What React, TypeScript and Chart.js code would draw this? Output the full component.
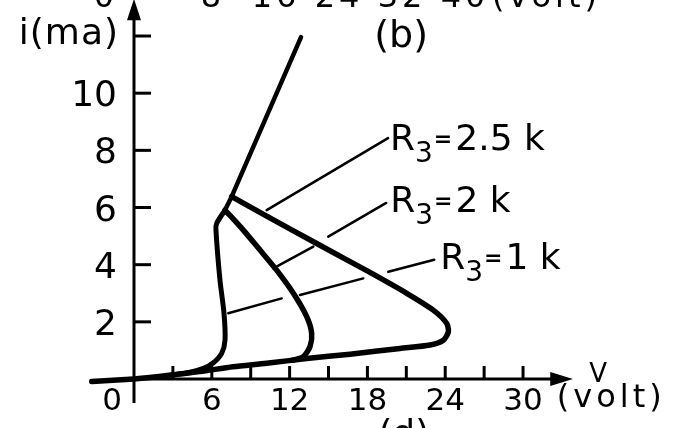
import React, { useEffect, useRef } from "react";
import { Chart, registerables } from "chart.js";

Chart.register(...registerables);

const FONT = '"DejaVu Sans", sans-serif';

// Straight load line (volt, mA) down to the branch points
const loadV = [12.88, 7.53, 7.02];
const loadI = [11.96, 6.38, 5.91];

// R3 = 2.5 k branch, running back along the lower line through the origin
const r25V = [7.53, 10.23, 14.09, 17.95, 21.03, 23.08, 24.11, 24.24, 23.85, 22.83, 20.51, 16.66, 13.32, 10.23, 7.63, 5.09, 3.0, 1.2, 0, -3.26];
const r25I = [6.38, 5.7, 4.74, 3.79, 3.0, 2.41, 1.95, 1.65, 1.36, 1.19, 1.07, 0.87, 0.72, 0.55, 0.43, 0.26, 0.15, 0.05, 0, -0.09];

// R3 = 2 k branch
const r2V = [7.02, 8.43, 9.72, 11.0, 12.29, 13.32, 13.7, 13.57, 13.06, 12.26];
const r2I = [5.91, 5.21, 4.51, 3.81, 3.0, 2.18, 1.6, 1.13, 0.78, 0.66];

// R3 = 1 k branch
const r1V = [7.02, 6.38, 6.32, 6.63, 6.94, 7.02, 6.76, 6.12, 5.35, 4.2, 3.0];
const r1I = [5.91, 5.45, 5.21, 3.46, 2.3, 1.36, 0.9, 0.57, 0.37, 0.22, 0.15];

// Leader lines to the labels (null = break where another curve is crossed)
const lead25V = [10.23, 19.59];
const lead25I = [5.91, 8.43];
const lead2V = [10.74, 13.83, null, 14.98, 19.45];
const lead2I = [3.87, 4.63, null, 4.98, 6.16];
const lead1V = [7.27, 11.39, null, 12.8, 17.68, null, 19.61, 23.15];
const lead1I = [2.3, 2.82, null, 2.94, 3.52, null, 3.75, 4.17];

const resistorValues = ["2.5 k", "2 k", "1 k"];

const yTicks = [2, 4, 6, 8, 10, 12];
const yTickLabels = ["2", "4", "6", "8", "10"];
const xTicks = [3, 6, 9, 12, 15, 18, 21, 24, 27, 30];
const xTickLabels = ["0", "6", "12", "18", "24", "30"];
// Voltage labels of the panel above, cut by the top edge
const upperAxisLabels = ["0", "8", "16", "24", "32", "40"];

type P = { x: number | null; y: number | null };
const toPts = (V: (number | null)[], I: (number | null)[]): P[] =>
  V.map((v, k) => ({ x: v, y: I[k] }));

const line = (V: (number | null)[], I: (number | null)[], width: number, tension: number) => ({
  data: toPts(V, I),
  showLine: true,
  borderColor: "#000",
  backgroundColor: "#000",
  borderWidth: width,
  pointRadius: 0,
  tension,
  fill: false,
  spanGaps: false,
  borderCapStyle: "round",
  borderJoinStyle: "round",
});

const axesPlugin = {
  id: "handAxes",
  beforeDatasetsDraw(chart: any) {
    const { ctx } = chart;
    const xs = chart.scales.x;
    const ys = chart.scales.y;
    const px = (v: number) => xs.getPixelForValue(v);
    const py = (v: number) => ys.getPixelForValue(v);
    const x0 = px(0);
    const y0 = py(0);
    ctx.save();
    ctx.strokeStyle = "#000";
    ctx.fillStyle = "#000";
    ctx.lineWidth = 3;
    ctx.lineCap = "butt";
    // vertical axis with arrow
    ctx.beginPath();
    ctx.moveTo(x0, py(-0.84));
    ctx.lineTo(x0, py(12.6));
    ctx.stroke();
    ctx.beginPath();
    ctx.moveTo(x0, py(13.3));
    ctx.lineTo(x0 - 7, py(12.55));
    ctx.lineTo(x0 + 7, py(12.55));
    ctx.closePath();
    ctx.fill();
    // horizontal axis with arrow
    ctx.beginPath();
    ctx.moveTo(x0, y0);
    ctx.lineTo(px(32.3), y0);
    ctx.stroke();
    ctx.beginPath();
    ctx.moveTo(px(33.85), y0);
    ctx.lineTo(px(32.1), y0 - 7);
    ctx.lineTo(px(32.1), y0 + 7);
    ctx.closePath();
    ctx.fill();
    // inward ticks
    yTicks.forEach((t) => {
      ctx.beginPath();
      ctx.moveTo(x0, py(t));
      ctx.lineTo(x0 + 17, py(t));
      ctx.stroke();
    });
    xTicks.forEach((t) => {
      ctx.beginPath();
      ctx.moveTo(px(t), y0);
      ctx.lineTo(px(t), y0 - 13);
      ctx.stroke();
    });
    ctx.restore();
  },
  afterDraw(chart: any) {
    const { ctx } = chart;
    const xs = chart.scales.x;
    const ys = chart.scales.y;
    const px = (v: number) => xs.getPixelForValue(v);
    const py = (v: number) => ys.getPixelForValue(v);
    const x0 = px(0);
    const y0 = py(0);
    ctx.save();
    ctx.fillStyle = "#000";
    ctx.textBaseline = "alphabetic";

    // vertical tick labels
    ctx.font = `36px ${FONT}`;
    ctx.textAlign = "right";
    yTickLabels.forEach((s) => ctx.fillText(s, x0 - 17, py(Number(s)) + 13));
    ctx.letterSpacing = "1px";
    ctx.fillText("i(ma)", x0 - 15, py(12) + 8);
    ctx.letterSpacing = "0px";

    // horizontal tick labels
    ctx.font = `31px ${FONT}`;
    xTickLabels.forEach((s) => {
      const v = Number(s);
      if (v === 0) {
        ctx.textAlign = "right";
        ctx.fillText(s, x0 - 12, y0 + 31);
      } else {
        ctx.textAlign = "center";
        ctx.fillText(s, px(v), y0 + 31);
      }
    });

    // axis unit
    ctx.textAlign = "center";
    ctx.font = `26px ${FONT}`;
    ctx.fillText("V", px(35.8), y0 + 3);
    ctx.textAlign = "left";
    ctx.font = `32px ${FONT}`;
    ctx.letterSpacing = "4px";
    ctx.fillText("(volt)", px(32.6), y0 + 28);

    // labels of the neighbouring panels, clipped by the edges
    upperAxisLabels.forEach((s) => {
      const v = Number(s);
      ctx.textAlign = "center";
      ctx.fillText(s, v === 0 ? 106 : 150 + v * 7.875, 7);
    });
    ctx.textAlign = "left";
    ctx.fillText("(volt)", 492, 7);
    ctx.letterSpacing = "0px";

    // panel captions
    ctx.textAlign = "center";
    ctx.font = `38px ${FONT}`;
    ctx.fillText("(b)", px(20.6), 47);
    ctx.font = `36px ${FONT}`;
    ctx.fillText("(d)", px(20.8), y0 + 66);

    // resistor labels at the ends of the leader lines
    const ends = [
      [lead25V[lead25V.length - 1], lead25I[lead25I.length - 1], 2, 12],
      [lead2V[lead2V.length - 1], lead2I[lead2I.length - 1], 4, 9],
      [lead1V[lead1V.length - 1], lead1I[lead1I.length - 1], 6, 9],
    ] as number[][];
    ends.forEach(([v, i, dx, dy], k) => {
      let x = px(v) + dx;
      const base = py(i) + dy;
      ctx.textAlign = "left";
      ctx.font = `36px ${FONT}`;
      ctx.fillText("R", x, base);
      x += ctx.measureText("R").width;
      ctx.font = `28px ${FONT}`;
      ctx.fillText("3", x, base + 12);
      x += ctx.measureText("3").width + 1;
      ctx.font = `bold 22px ${FONT}`;
      ctx.fillText("=", x, base - 4);
      x += ctx.measureText("=").width + 3;
      ctx.font = `36px ${FONT}`;
      ctx.fillText(resistorValues[k], x, base);
    });
    ctx.restore();
  },
};

export default function App() {
  const ref = useRef<HTMLCanvasElement | null>(null);
  useEffect(() => {
    if (!ref.current) return;
    const chart = new Chart(ref.current, {
      type: "scatter",
      data: {
        datasets: [
          line(lead25V, lead25I, 2.5, 0),
          line(lead2V, lead2I, 2.5, 0),
          line(lead1V, lead1I, 2.5, 0),
          line(loadV, loadI, 4.5, 0),
          line(r25V, r25I, 5.5, 0.25),
          line(r2V, r2I, 5.5, 0.25),
          line(r1V, r1I, 5, 0.25),
        ] as any,
      },
      options: {
        animation: false,
        responsive: false,
        events: [],
        layout: { padding: { left: 82.13, right: 110.1, top: 0, bottom: 20.4 } },
        scales: {
          x: { type: "linear", min: -4, max: 34, display: false },
          y: { type: "linear", min: -1, max: 13.26, display: false },
        },
        plugins: { legend: { display: false }, tooltip: { enabled: false } },
      },
      plugins: [axesPlugin],
    });
    return () => chart.destroy();
  }, []);
  return (
    <div style={{ position: "absolute", left: 0, top: 0, width: 685, height: 428, background: "#fff" }}>
      <canvas ref={ref} width={685} height={428} style={{ display: "block" }} />
    </div>
  );
}
